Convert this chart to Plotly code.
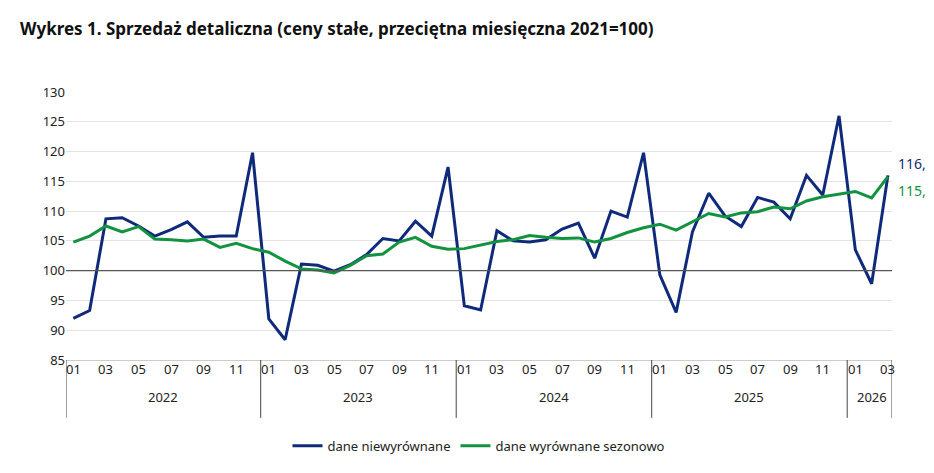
import plotly.graph_objects as go

years = ["2022", "2023", "2024", "2025", "2026"]
months_per_year = [12, 12, 12, 12, 3]
unadjusted = [92.0, 93.3, 108.7, 108.9, 107.5, 105.8, 106.9, 108.2, 105.6, 105.8, 105.8, 119.8,
              91.9, 88.4, 101.1, 100.9, 99.9, 101.0, 102.7, 105.4, 105.0, 108.3, 105.8, 117.4,
              94.1, 93.4, 106.7, 105.0, 104.8, 105.2, 107.0, 108.0, 102.1, 110.0, 109.0, 119.8,
              99.3, 93.0, 106.5, 113.0, 109.2, 107.4, 112.3, 111.5, 108.7, 116.0, 112.7, 126.0,
              103.5, 97.8, 116.0]
seasonal = [104.8, 105.8, 107.5, 106.5, 107.4, 105.3, 105.2, 105.0, 105.3, 103.9, 104.6, 103.7,
            103.1, 101.6, 100.3, 100.1, 99.6, 100.9, 102.5, 102.8, 104.8, 105.6, 104.1, 103.6,
            103.7, 104.3, 104.9, 105.2, 105.9, 105.6, 105.4, 105.5, 104.8, 105.4, 106.4, 107.2,
            107.8, 106.8, 108.2, 109.6, 109.0, 109.7, 109.9, 110.7, 110.4, 111.7, 112.4, 112.8,
            113.3, 112.2, 115.8]
y_ticks = [85, 90, 95, 100, 105, 110, 115, 120, 125, 130]

x = list(range(len(unadjusted)))
navy = "#0f2a7a"
green = "#13923f"
font = "Noto Sans"

fig = go.Figure()
fig.add_trace(go.Scatter(x=x, y=unadjusted, mode="lines", name="dane niewyrównane",
                         line=dict(color=navy, width=3)))
fig.add_trace(go.Scatter(x=x, y=seasonal, mode="lines", name="dane wyrównane sezonowo",
                         line=dict(color=green, width=3)))

L, R, T, B = 58, 50, 84, 121
pw, ph = 934 - L - R, 473 - T - B
xmin, xmax = -0.45, 50.25
ann = []
shapes = []
idx = 0
for yr, n in zip(years, months_per_year):
    for m in range(1, n + 1, 2):
        ann.append(dict(x=idx + m - 1, y=-0.075, xref="x", yref="paper", text=f"{m:02d}",
                        showarrow=False, font=dict(size=13, color="#222", family=font)))
    ann.append(dict(x=idx + (n - 1) / 2, y=-0.18, xref="x", yref="paper", text=yr,
                    showarrow=False, font=dict(size=13, color="#222", family=font)))
    idx += n
bounds = [xmin] + [sum(months_per_year[:i + 1]) - 0.5 for i in range(len(years) - 1)] + [xmax]
for b in bounds:
    shapes.append(dict(type="line", xref="x", yref="paper", x0=b, x1=b, y0=0, y1=-0.216,
                       line=dict(color="#444", width=1)))
shapes.append(dict(type="line", xref="x", yref="y", x0=xmin, x1=xmax, y0=100, y1=100,
                   line=dict(color="#555", width=1.2)))
ann.append(dict(x=50, y=unadjusted[-1], xref="x", yref="y", text="116,0", xanchor="left",
                xshift=8, yshift=12, showarrow=False, font=dict(size=14, color=navy, family=font)))
ann.append(dict(x=50, y=seasonal[-1], xref="x", yref="y", text="115,8", xanchor="left",
                xshift=8, yshift=-14, showarrow=False, font=dict(size=14, color=green, family=font)))
ann.append(dict(x=(10 - L) / pw, y=1 + (T - 20) / ph, xref="paper", yref="paper",
                text="<b>Wykres 1. Sprzedaż detaliczna (ceny stałe, przeciętna miesięczna 2021=100)</b>",
                xanchor="left", yanchor="middle", showarrow=False,
                font=dict(size=17, color="#111", family=font)))

fig.update_layout(
    width=934, height=473, margin=dict(l=L, r=R, t=T, b=B, autoexpand=False),
    paper_bgcolor="white", plot_bgcolor="white",
    font=dict(family=font, size=13, color="#222"),
    xaxis=dict(range=[xmin, xmax], showticklabels=False, showgrid=False, zeroline=False,
               showline=True, linecolor="#ccc", automargin=False),
    yaxis=dict(range=[85, 130], tickvals=y_ticks, showgrid=True, gridcolor="#e3e3e3",
               zeroline=False, ticks="", tickfont=dict(size=13), automargin=False),
    legend=dict(orientation="h", x=0.5, xanchor="center", y=-0.32, yanchor="middle",
                font=dict(size=13)),
    annotations=ann, shapes=shapes,
)
fig.write_html("out.html")
